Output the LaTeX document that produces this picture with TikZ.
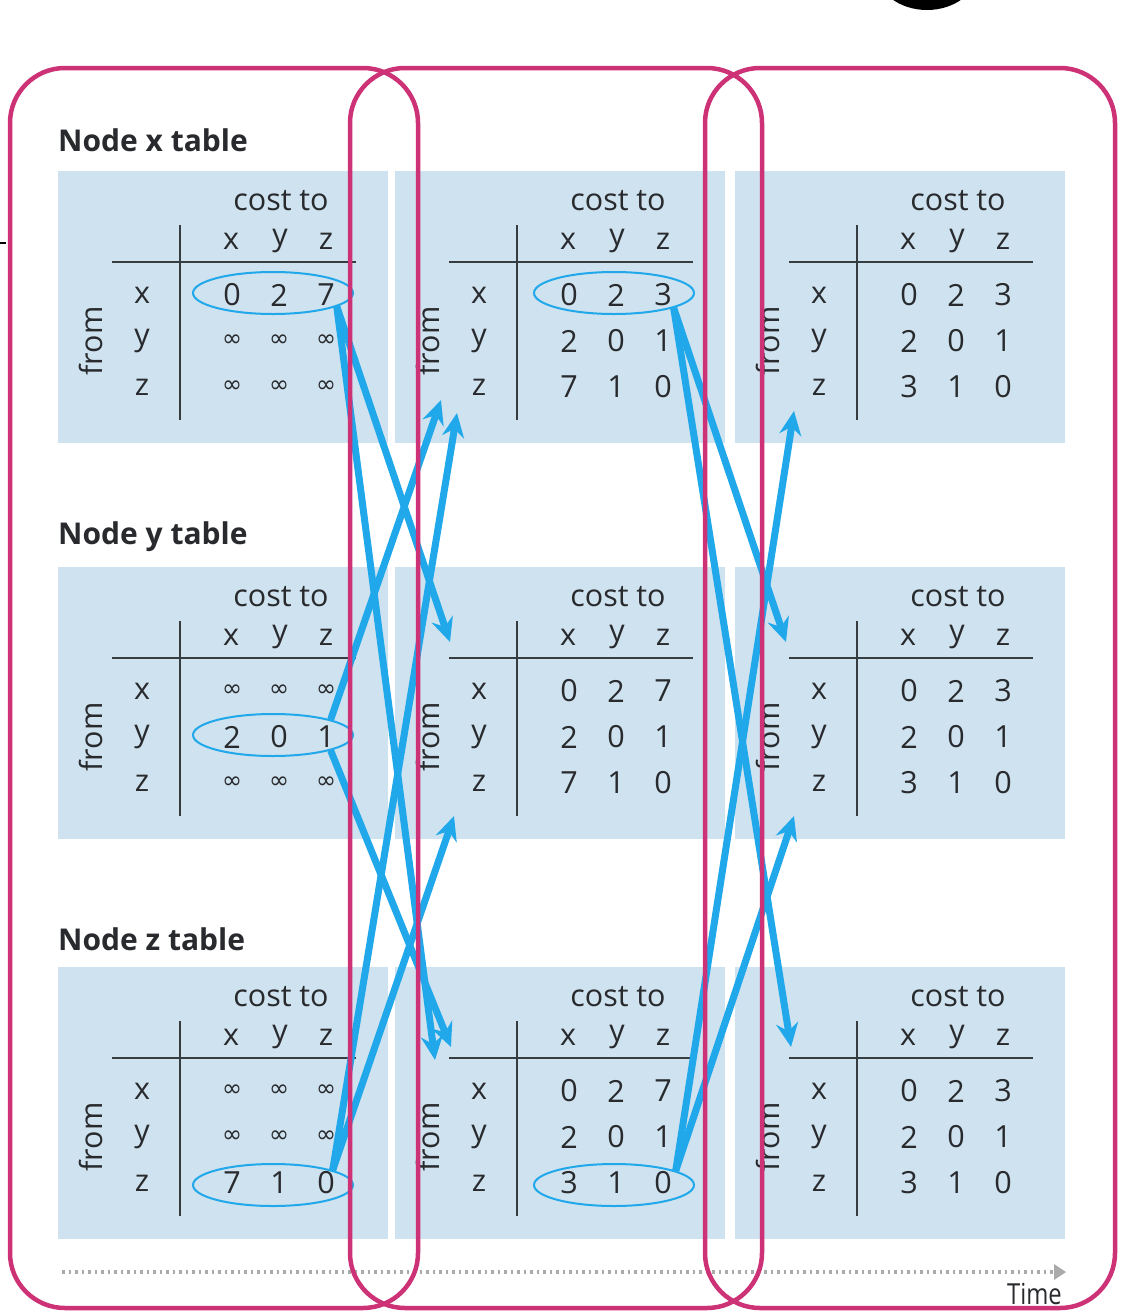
\documentclass[tikz,border=0pt]{standalone}
\usepackage{fontspec}
\setmainfont{Open Sans}
\newfontfamily\dejavu{DejaVu Sans}
\usetikzlibrary{shapes.geometric,arrows.meta,calc}
\definecolor{panelc}{RGB}{207,226,239}
\definecolor{bluec}{RGB}{32,168,235}
\definecolor{pinkc}{RGB}{206,50,118}
\definecolor{rulec}{RGB}{55,60,65}
\definecolor{textc}{RGB}{40,42,45}
\definecolor{timec}{RGB}{170,170,170}
\newcommand{\oo}{{\dejavu\fontsize{24}{24}\selectfont ∞}}
\tikzset{
  lbl/.style={text=textc, inner sep=0pt, font=\fontsize{30.5}{30.5}\selectfont},
  ttl/.style={text=textc, inner sep=0pt, anchor=west, font=\bfseries\fontsize{30}{30}\selectfont},
  tblrule/.style={draw=rulec, line width=1.6pt},
  ell/.style={ellipse, draw=bluec, line width=2pt, minimum width=160pt, minimum height=42pt, inner sep=0pt},
  msg/.style={draw=bluec, line width=7pt, -{Stealth[length=24pt,width=22pt,inset=8pt]}},
  loop/.style={draw=pinkc, line width=4.5pt, rounded corners=55pt},
}
% #1 name, #2 left, #3 top, #4 row x, #5 row y, #6 row z
\newcommand{\costtable}[6]{%
  \fill[panelc] (#2,#3) rectangle ++(330,272);
  \node[lbl] (#1-cost) at ({#2+223},{#3+30}) {cost to};
  \node[lbl] (#1-hx) at ({#2+173},{#3+70}) {x};
  \node[lbl] (#1-hy) at ({#2+222},{#3+70}) {y};
  \node[lbl] (#1-hz) at ({#2+268},{#3+70}) {z};
  \draw[tblrule] ({#2+54},{#3+91}) -- ({#2+298},{#3+91});
  \draw[tblrule] ({#2+122},{#3+54}) -- ({#2+122},{#3+249});
  \node[lbl, rotate=90] (#1-from) at ({#2+33},{#3+170}) {from};
  \node[lbl] (#1-rx) at ({#2+84},{#3+124}) {x};
  \node[lbl] (#1-ry) at ({#2+84},{#3+170}) {y};
  \node[lbl] (#1-rz) at ({#2+84},{#3+216}) {z};
  \foreach \v [count=\i] in {#4} {\node[lbl] (#1-x-\i) at ({#2+127+47*\i},{#3+124}) {\v};}
  \foreach \v [count=\i] in {#5} {\node[lbl] (#1-y-\i) at ({#2+127+47*\i},{#3+170}) {\v};}
  \foreach \v [count=\i] in {#6} {\node[lbl] (#1-z-\i) at ({#2+127+47*\i},{#3+216}) {\v};}
}
\begin{document}
\begin{tikzpicture}[x=1pt, y=-1pt]
\useasboundingbox (0,0) rectangle (1134,1312);
\fill[white] (0,0) rectangle (1134,1312);

% titles
\node[ttl] (tx) at (58,140) {Node x table};
\node[ttl] (ty) at (58,537) {Node y table};
\node[ttl] (tz) at (58,939) {Node z table};

% tables
\costtable{ax}{58}{171}{0,2,7}{\oo,\oo,\oo}{\oo,\oo,\oo}
\costtable{bx}{395}{171}{0,2,3}{2,0,1}{7,1,0}
\costtable{cx}{735}{171}{0,2,3}{2,0,1}{3,1,0}
\costtable{ay}{58}{567}{\oo,\oo,\oo}{2,0,1}{\oo,\oo,\oo}
\costtable{by}{395}{567}{0,2,7}{2,0,1}{7,1,0}
\costtable{cy}{735}{567}{0,2,3}{2,0,1}{3,1,0}
\costtable{az}{58}{967}{\oo,\oo,\oo}{\oo,\oo,\oo}{7,1,0}
\costtable{bz}{395}{967}{0,2,7}{2,0,1}{3,1,0}
\costtable{cz}{735}{967}{0,2,3}{2,0,1}{3,1,0}

% ellipses round changed rows
\node[ell] (e1x) at (273,293) {};
\node[ell] (e1y) at (273,735) {};
\node[ell] (e1z) at (273,1185) {};
\node[ell] (e2x) at (614,293) {};
\node[ell] (e2z) at (614,1185) {};

% arrow targets
\coordinate (t2y-a) at (450,642);
\coordinate (t2z-a) at (435,1060);
\coordinate (t2x-a) at (441,400);
\coordinate (t2z-b) at (451,1047);
\coordinate (t2x-b) at (457,413);
\coordinate (t2y-b) at (454,816);
\coordinate (t3y-a) at (786,642);
\coordinate (t3z-a) at (791,1047);
\coordinate (t3x-a) at (794,411);
\coordinate (t3y-b) at (794,816);

% messages, round 1
\draw[msg] (e1x.-12) -- (t2y-a);
\draw[msg] (e1x.-12) -- (t2z-a);
\draw[msg] (e1y.15) -- (t2x-a);
\draw[msg] (e1y.-15) -- (t2z-b);
\draw[msg] (e1z.14) -- (t2x-b);
\draw[msg] (e1z.14) -- (t2y-b);
% messages, round 2
\draw[msg] (e2x.-14) -- (t3y-a);
\draw[msg] (e2x.-14) -- (t3z-a);
\draw[msg] (e2z.13) -- (t3x-a);
\draw[msg] (e2z.13) -- (t3y-b);

% time axis
\coordinate (ts) at (62,1272);
\coordinate (te) at (1066,1272);
\draw[timec, line width=3.5pt, dash pattern=on 2.5pt off 4pt] (ts) -- ($(te)+(-10,0)$);
\fill[timec] (te) -- ++(-12,-8) -- ++(0,16) -- cycle;
\node[text=textc, inner sep=0pt, anchor=east, xscale=0.82, font=\fontsize{29}{29}\selectfont] (time) at (1062,1294) {Time};

% pink loops
\draw[loop] (10,68) rectangle (418,1308);
\draw[loop] (350,68) rectangle (762,1308);
\draw[loop] (705,68) rectangle (1115,1308);

% cropped marks at the edges
\fill[black] (927,-30) ellipse [x radius=51, y radius=40];
\draw[black, line width=2pt] (0,243) -- (6,243);
\end{tikzpicture}
\end{document}
